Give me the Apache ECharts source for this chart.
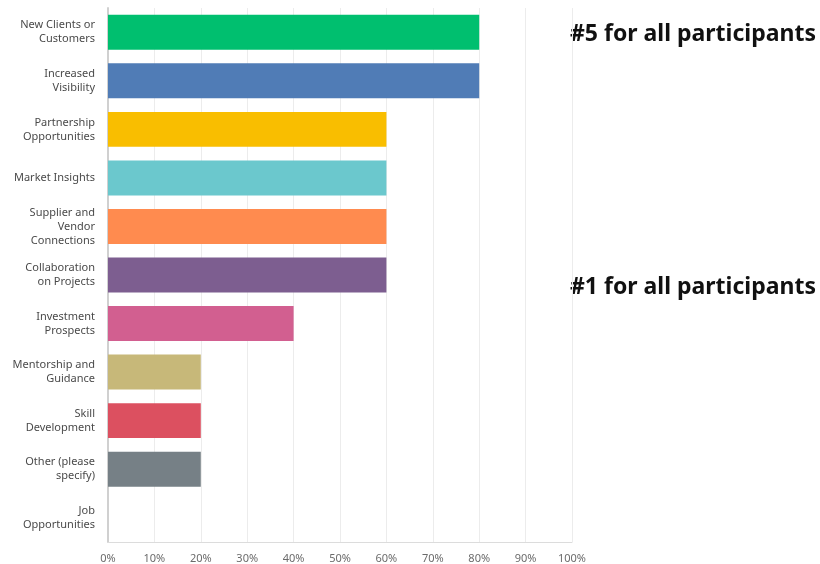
<!DOCTYPE html>
<html>
<head>
<meta charset="utf-8">
<script src="https://cdn.jsdelivr.net/npm/echarts@6/dist/echarts.min.js"></script>
<style>
  html,body{margin:0;padding:0;background:#fff;}
  #chart{width:820px;height:564px;}
</style>
</head>
<body>
<div id="chart"></div>
<script>
const categories=['New Clients or\nCustomers','Increased\nVisibility','Partnership\nOpportunities','Market Insights','Supplier and\nVendor\nConnections','Collaboration\non Projects','Investment\nProspects','Mentorship and\nGuidance','Skill\nDevelopment','Other (please\nspecify)','Job\nOpportunities']
const values=[80,80,60,60,60,60,40,20,20,20,0]
const colors=['#00bf6f','#507cb6','#f9be00','#6bc8cd','#ff8b4f','#7d5e90','#d25f90','#c7b879','#dc5060','#768086','#768086']
const notes=['#5 for all participants','#1 for all participants']

const myChart=echarts.init(document.querySelector('#chart'))
const option={
  animation:false,
  grid:{left:108,right:248,top:8,bottom:22},
  xAxis:{
    type:'value',
    min:0,max:100,interval:10,
    axisLabel:{formatter:'{value}%',color:'#6b6b6b',fontSize:11,fontFamily:'Noto Sans',margin:11},
    splitLine:{lineStyle:{color:'#ececec'}},
    axisLine:{show:true,lineStyle:{color:'#dcdcdc'}},
    axisTick:{show:false}
  },
  yAxis:{
    type:'category',
    inverse:true,
    data:categories,
    axisLine:{lineStyle:{color:'#d0d0d0',width:2}},
    axisTick:{show:false},
    axisLabel:{color:'#4a4a4a',fontSize:11,fontFamily:'Noto Sans',lineHeight:14,margin:13,align:'right'}
  },
  series:[{
    type:'bar',
    barCategoryGap:'28%',
    data:values.map((v,i)=>({value:v,itemStyle:{color:colors[i]}}))
  }],
  graphic:[
    {type:'text',left:570,top:23,style:{text:notes[0],fontSize:23,fontWeight:'bold',fontFamily:'Noto Sans',fill:'#111'}},
    {type:'text',left:570,top:276,style:{text:notes[1],fontSize:23,fontWeight:'bold',fontFamily:'Noto Sans',fill:'#111'}}
  ]
}
myChart.setOption(option)
</script>
</body>
</html>
